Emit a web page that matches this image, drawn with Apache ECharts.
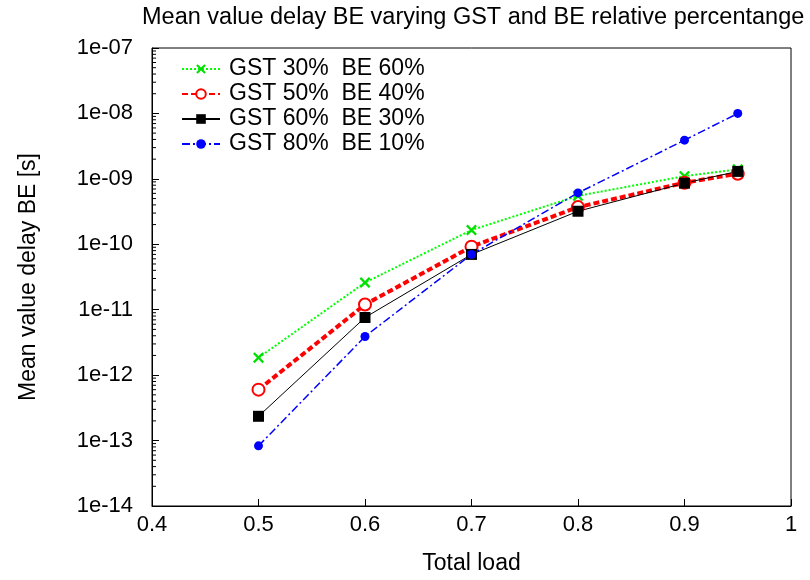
<!DOCTYPE html>
<html>
<head>
<meta charset="utf-8">
<script src="https://cdn.jsdelivr.net/npm/echarts@6/dist/echarts.min.js"></script>
<style>html,body{margin:0;padding:0;background:#fff}#c{width:810px;height:580px}</style>
</head>
<body>
<div id="c"></div>
<script>
const totalLoad = [0.5, 0.6, 0.7, 0.8, 0.9, 0.95];
const gst30be60 = [1.85e-12, 2.6e-11, 1.65e-10, 5.5e-10, 1.1e-9, 1.4e-9];
const gst50be40 = [6.0e-13, 1.2e-11, 9.2e-11, 3.7e-10, 8.7e-10, 1.2e-9];
const gst60be30 = [2.35e-13, 7.6e-12, 7.0e-11, 3.2e-10, 8.6e-10, 1.3e-9];
const gst80be10 = [8.3e-14, 3.9e-12, 7.0e-11, 6.1e-10, 3.9e-9, 1.0e-8];
const seriesNames = ['GST 30%  BE 60%', 'GST 50%  BE 40%', 'GST 60%  BE 30%', 'GST 80%  BE 10%'];
const titleText = 'Mean value delay BE varying GST and BE relative percentange';
const xAxisTitle = 'Total load';
const yAxisTitle = 'Mean value delay BE [s]';
const xMin = 0.4, xMax = 1;
const yMin = 1e-14, yMax = 1e-7;

const pair = ys => totalLoad.map((x, i) => [x, ys[i]]);
const FONT = 'Liberation Sans';
const crossPath = 'path://M0,1.5 L1.5,0 L5,3.5 L8.5,0 L10,1.5 L6.5,5 L10,8.5 L8.5,10 L5,6.5 L1.5,10 L0,8.5 L3.5,5 Z';

// log-spaced minor tick values (2..9 within each decade)
const minorTickVals = [];
for (let e = -14; e < -7; e++) {
  for (let m = 2; m <= 9; m++) minorTickVals.push(m * Math.pow(10, e));
}

const chart = echarts.init(document.getElementById('c'), null, {renderer: 'canvas'});
chart.setOption({
  animation: false,
  backgroundColor: '#fff',
  title: {
    text: titleText, left: 137, top: 1,
    textStyle: {fontFamily: FONT, fontSize: 23.5, fontWeight: 'normal', color: '#000'}
  },
  legend: {
    orient: 'vertical', left: 176, top: 52, itemWidth: 38, itemHeight: 12, itemGap: 1,
    textStyle: {fontFamily: FONT, fontSize: 23, color: '#000', lineHeight: 24, padding: [0, 0, 0, 4]},
    data: seriesNames
  },
  grid: {left: 152, right: 19, top: 48, bottom: 74, show: true, borderColor: '#000', borderWidth: 1},
  xAxis: {
    type: 'value', min: xMin, max: xMax, interval: 0.1,
    name: xAxisTitle, nameLocation: 'middle', nameGap: 46,
    nameTextStyle: {fontFamily: FONT, fontSize: 23, color: '#000'},
    axisLine: {show: true, lineStyle: {color: '#000'}},
    axisTick: {show: true, inside: true, length: 7, lineStyle: {color: '#000'}},
    axisLabel: {fontFamily: FONT, fontSize: 22, color: '#000', margin: 8,
      formatter: v => (Math.abs(v - 1) < 1e-9 ? '1' : v.toFixed(1))},
    splitLine: {show: false}
  },
  yAxis: {
    type: 'log', logBase: 10, min: yMin, max: yMax,
    name: yAxisTitle, nameLocation: 'middle', nameGap: 112, nameRotate: 90,
    nameTextStyle: {fontFamily: FONT, fontSize: 23, color: '#000'},
    axisLine: {show: true, lineStyle: {color: '#000'}},
    axisTick: {show: true, inside: true, length: 7, lineStyle: {color: '#000'}},
    axisLabel: {fontFamily: FONT, fontSize: 22, color: '#000', margin: 19,
      formatter: v => {
        const e = Math.round(Math.log10(v));
        const a = Math.abs(e);
        return '1e' + (e < 0 ? '-' : '+') + (a < 10 ? '0' + a : '' + a);
      }},
    splitLine: {show: false}
  },
  series: [
    {
      name: 'minorTicks', type: 'custom', silent: true, z: 1,
      data: minorTickVals.map(v => [xMin, v]),
      renderItem: (params, api) => {
        const p = api.coord([xMin, api.value(1)]);
        return {
          type: 'line',
          shape: {x1: p[0], y1: p[1], x2: p[0] + 4, y2: p[1]},
          style: {stroke: '#000', lineWidth: 1}
        };
      }
    },
    {
      name: seriesNames[0], type: 'line', data: pair(gst30be60),
      symbol: crossPath, symbolSize: 11,
      lineStyle: {color: '#00ff00', width: 2, type: [2, 2]},
      itemStyle: {color: '#00e000'}
    },
    {
      name: seriesNames[1], type: 'line', data: pair(gst50be40),
      symbol: 'emptyCircle', symbolSize: 12,
      lineStyle: {color: '#ff0000', width: 4, type: [6, 3]},
      itemStyle: {color: '#ff0000', borderColor: '#ff0000', borderWidth: 3}
    },
    {
      name: seriesNames[2], type: 'line', data: pair(gst60be30),
      symbol: 'rect', symbolSize: 11,
      lineStyle: {color: '#000000', width: 1},
      itemStyle: {color: '#000000'}
    },
    {
      name: seriesNames[3], type: 'line', data: pair(gst80be10),
      symbol: 'circle', symbolSize: 9,
      lineStyle: {color: '#0000ff', width: 1.5, type: [8, 3, 2, 3]},
      itemStyle: {color: '#0000ff'}
    }
  ]
});
</script>
</body>
</html>
